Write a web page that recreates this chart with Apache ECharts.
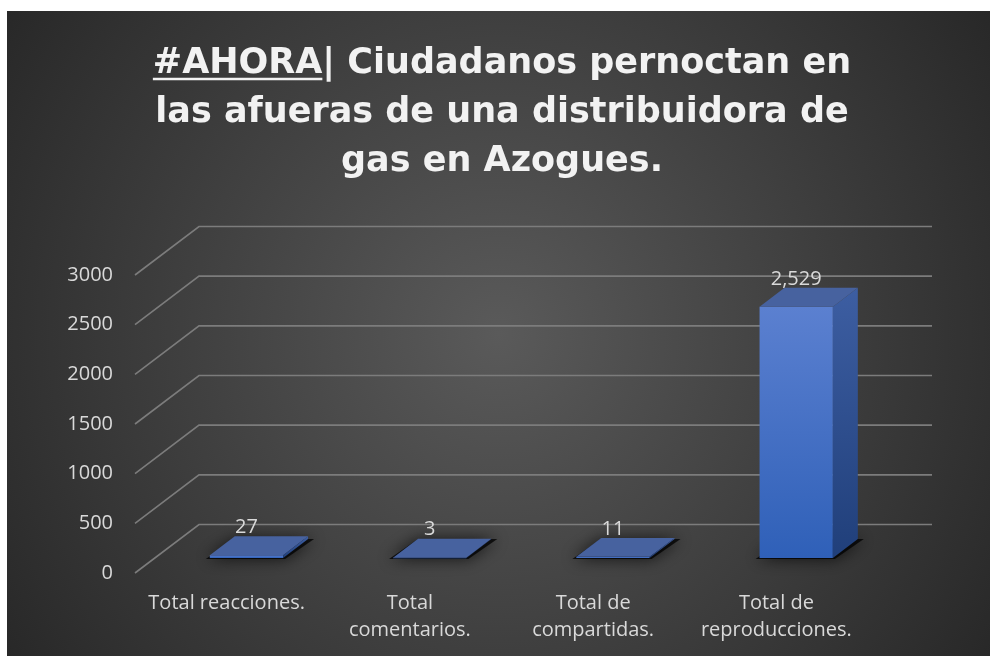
<!DOCTYPE html>
<html><head><meta charset="utf-8">
<script src="https://cdn.jsdelivr.net/npm/echarts@6/dist/echarts.min.js"></script>
<style>html,body{margin:0;padding:0;background:#fff;}#c{width:990px;height:656px;}</style>
</head><body><div id="c"></div>
<script>
// ---- data ----
const titleLines = ['#AHORA| Ciudadanos pernoctan en', 'las afueras de una distribuidora de', 'gas en Azogues.'];
const titleTag = '#AHORA';
const categories = ['Total reacciones.', 'Total\ncomentarios.', 'Total de\ncompartidas.', 'Total de\nreproducciones.'];
const values = [27, 3, 11, 2529];
const yTicks = [0, 500, 1000, 1500, 2000, 2500, 3000];

// ---- layout / style ----
const DEPTH = [64, -48.5];
const T1 = 0.31, T2 = 0.70;
const titleFamily = '"DejaVu Sans"';
const titleSize = 35;
const titleCx = 502;
const titleTop = 39;
const titleLH = 49;
const mctx = document.createElement('canvas').getContext('2d');
mctx.font = 'bold ' + titleSize + 'px ' + titleFamily;
const line1W = mctx.measureText(titleLines[0]).width;
const tagW = mctx.measureText(titleTag).width;
const ulX = titleCx - line1W / 2;

const chart = echarts.init(document.getElementById('c'), null, {renderer: 'canvas'});

const option = {
  backgroundColor: '#ffffff',
  animation: false,
  graphic: [
    {type: 'rect', z: -100, silent: true,
     shape: {x: 7, y: 11, width: 983, height: 645},
     style: {fill: new echarts.graphic.RadialGradient(0.5, 0.5, 0.95, [
       {offset: 0, color: '#5a5a5a'}, {offset: 1, color: '#262626'}])}},
    {type: 'text', x: titleCx, y: titleTop, silent: true,
     style: {text: titleLines.join('\n'), fontFamily: 'DejaVu Sans', fontWeight: 'bold', fontSize: titleSize,
       fill: '#f2f2f2', align: 'center', verticalAlign: 'top', textAlign: 'center', textVerticalAlign: 'top', lineHeight: titleLH}},
    {type: 'line', silent: true,
     shape: {x1: ulX, y1: 79, x2: ulX + tagW, y2: 79},
     style: {stroke: '#f2f2f2', lineWidth: 2.5}}
  ],
  grid: {left: 135, right: 122, top: 275, bottom: 83, containLabel: false},
  xAxis: {
    type: 'category', data: categories,
    axisLine: {show: false}, axisTick: {show: false}, splitLine: {show: false},
    axisLabel: {color: '#d9d9d9', fontFamily: 'Open Sans', fontSize: 20, lineHeight: 27, margin: 17, interval: 0}
  },
  yAxis: {
    type: 'value', min: 0, max: 3000, interval: 500,
    axisLine: {show: false}, axisTick: {show: false}, splitLine: {show: false},
    axisLabel: {color: '#d9d9d9', fontFamily: 'Open Sans', fontSize: 20, margin: 22, padding: [8, 0, 0, 0],
      formatter: v => String(v)}
  },
  series: [
    {
      type: 'custom', z: 1, silent: true,
      data: yTicks.map(v => [0, v]),
      encode: {x: 0, y: 1},
      renderItem: function (params, api) {
        const cs = params.coordSys;
        const y = api.coord([0, api.value(1)])[1];
        const x0 = cs.x, x1 = cs.x + cs.width;
        return {
          type: 'polyline',
          shape: {points: [[x0, y], [x0 + DEPTH[0], y + DEPTH[1]], [x1 + DEPTH[0], y + DEPTH[1]]]},
          style: {stroke: '#7c7c7c', lineWidth: 1.6, fill: null}
        };
      }
    },
    {
      type: 'custom', z: 2, silent: true,
      data: values.map((v, i) => [i, v]),
      encode: {x: 0, y: 1},
      renderItem: function (params, api) {
        const i = api.value(0), v = api.value(1);
        const base = api.coord([i, 0]);
        const top = api.coord([i, v]);
        const bw = api.size([1, 0])[0] * 0.4;
        const fx = DEPTH[0] * T1, fy = DEPTH[1] * T1;
        const sx = DEPTH[0] * (T2 - T1), sy = DEPTH[1] * (T2 - T1);
        const xl = base[0] - bw / 2 + fx, xr = base[0] + bw / 2 + fx;
        const yb = base[1] + fy, yt = top[1] + fy;
        return {
          type: 'group',
          children: [
            {type: 'polygon',
             shape: {points: [[xl - 4, yb + 1], [xr + 2, yb + 1], [xr + sx + 6, yb + sy], [xl + sx, yb + sy]]},
             style: {fill: 'rgba(0,0,0,0.75)', shadowBlur: 16, shadowColor: 'rgba(0,0,0,0.95)'}},
            {type: 'rect',
             shape: {x: xl, y: yt, width: bw, height: Math.max(yb - yt, 0.5)},
             style: {fill: new echarts.graphic.LinearGradient(0, 0, 0, 1, [
               {offset: 0, color: '#5b80d0'}, {offset: 1, color: '#2f60b8'}])}},
            {type: 'polygon',
             shape: {points: [[xr, yt], [xr + sx, yt + sy], [xr + sx, yb + sy], [xr, yb]]},
             style: {fill: new echarts.graphic.LinearGradient(0, 0, 0, 1, [
               {offset: 0, color: '#3d5ea2'}, {offset: 1, color: '#203f7a'}])}},
            {type: 'polygon',
             shape: {points: [[xl, yt], [xr, yt], [xr + sx, yt + sy], [xl + sx, yt + sy]]},
             style: {fill: '#47629f'}},
            {type: 'text',
             x: (xl + xr) / 2, y: yt + sy + 1,
             style: {text: v.toLocaleString('en-US'), fill: '#d9d9d9', fontFamily: 'Open Sans', fontSize: 20,
               align: 'center', verticalAlign: 'bottom'}}
          ]
        };
      }
    }
  ]
};
chart.setOption(option);
</script>
</body></html>
